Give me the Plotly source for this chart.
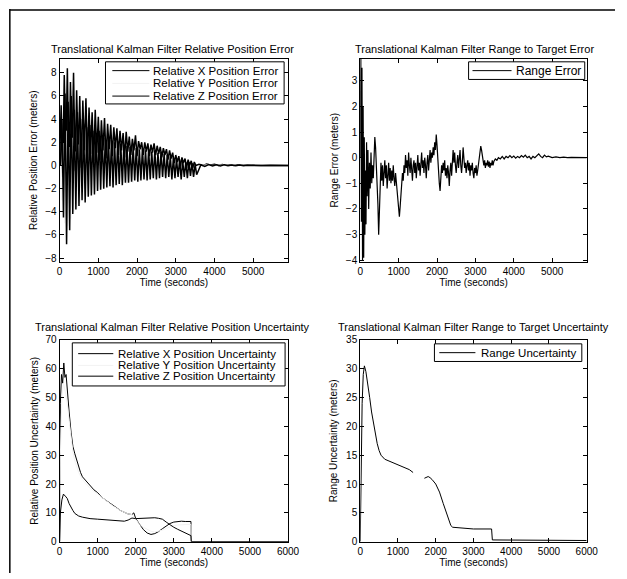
import plotly.graph_objects as go

W, H = 627, 579
FONT = "Liberation Sans, Arial, sans-serif"

# ---------------- data ----------------
# Top-left: relative position error (meters)
tl_time_x = [0, 40, 80, 120, 160, 200, 240, 280, 320, 360,
             400, 440, 480, 520, 560, 600, 640, 680, 720, 760,
             800, 840, 880, 920, 960, 1000, 1040, 1080, 1120, 1160,
             1200, 1240, 1280, 1320, 1360, 1400, 1440, 1480, 1520, 1560,
             1600, 1640, 1680, 1720, 1760, 1800, 1840, 1880, 1920, 1960,
             2000, 2040, 2080, 2120, 2160, 2200, 2240, 2280, 2320, 2360,
             2400, 2440, 2480, 2520, 2560, 2600, 2640, 2680, 2720, 2760,
             2800, 2840, 2880, 2920, 2960, 3000, 3040, 3080, 3120, 3160,
             3200, 3240, 3280, 3320, 3360, 3400, 3440, 3480, 3520,
             3600, 3700, 3800, 3900, 4000, 4100, 4200, 4300, 4400, 4500,
             4600, 4700, 4800, 4900, 5000, 5200, 5400, 5600, 5900]
tl_time_y = [10, 50, 90, 130, 170, 210, 250, 290, 330, 370,
             410, 450, 490, 530, 570, 610, 650, 690, 730, 770,
             810, 850, 890, 930, 970, 1010, 1050, 1090, 1130, 1170,
             1210, 1250, 1290, 1330, 1370, 1410, 1450, 1490, 1530, 1570,
             1610, 1650, 1690, 1730, 1770, 1810, 1850, 1890, 1930, 1970,
             2010, 2050, 2090, 2130, 2170, 2210, 2250, 2290, 2330, 2370,
             2410, 2450, 2490, 2530, 2570, 2610, 2650, 2690, 2730, 2770,
             2810, 2850, 2890, 2930, 2970, 3010, 3050, 3090, 3130, 3170,
             3210, 3250, 3290, 3330, 3370, 3410, 3450, 3490, 3530,
             3600, 3700, 3800, 3900, 4000, 4100, 4200, 4300, 4400, 4500,
             4600, 4700, 4800, 4900, 5000, 5200, 5400, 5600, 5900]
tl_time_z = [20, 60, 100, 140, 180, 220, 260, 300, 340, 380,
             420, 460, 500, 540, 580, 620, 660, 700, 740, 780,
             820, 860, 900, 940, 980, 1020, 1060, 1100, 1140, 1180,
             1220, 1260, 1300, 1340, 1380, 1420, 1460, 1500, 1540, 1580,
             1620, 1660, 1700, 1740, 1780, 1820, 1860, 1900, 1940, 1980,
             2020, 2060, 2100, 2140, 2180, 2220, 2260, 2300, 2340, 2380,
             2420, 2460, 2500, 2540, 2580, 2620, 2660, 2700, 2740, 2780,
             2820, 2860, 2900, 2940, 2980, 3020, 3060, 3100, 3140, 3180,
             3220, 3260, 3300, 3340, 3380, 3420, 3460, 3500, 3540,
             3650, 3750, 3850, 3950, 4050, 4150, 4250, 4350, 4450, 4550,
             4650, 4750, 4850, 4950, 5050, 5250, 5450, 5650, 5900]
tl_x_err = [0.5, 5.2, -1.0, 7.8, 0.5, 8.4, -0.8, 7.2, 1.0, 8.0,
            -0.5, 6.5, 0.8, 6.0, -0.2, 5.6, 1.2, 5.8, 0.3, 5.0,
            1.0, 4.6, 0.2, 4.8, 1.1, 4.2, 0.5, 3.9, 1.3, 4.1,
            0.6, 3.6, 1.4, 3.5, 0.8, 3.3, 1.5, 3.2, 0.9, 3.0,
            1.3, 2.8, 0.7, 2.9, 1.2, 2.5, 0.9, 2.3, 1.3, 2.6,
            0.8, 2.1, 1.4, 2.0, 0.9, 2.0, 1.2, 1.9, 0.8, 1.8,
            1.1, 1.9, 0.9, 1.7, 1.0, 1.6, 0.7, 1.5, 0.9, 1.4,
            0.5, 1.3, 0.6, 1.1, 0.2, 0.9, 0.3, 0.8, -0.1, 0.7,
            0.2, 0.6, -0.2, 0.5, 0.0, 0.4, -0.2, 0.3, 0.0,
            0.1, 0.0, 0.12, 0.03, 0.1, 0.0, 0.08, 0.02, 0.07, 0.0,
            0.05, 0.02, 0.04, 0.0, 0.03, 0.0, 0.01, 0.0, 0.0]
tl_y_err = [0.0, -3.0, 2.0, -5.0, 3.0, -5.2, 1.6, -4.6, 2.4, -4.0,
            1.2, -3.6, 1.8, -3.2, 0.8, -2.9, 1.3, -2.7, 0.6, -2.5,
            1.0, -2.4, 0.4, -2.3, 0.7, -2.1, 0.3, -2.0, 0.6, -1.9,
            0.2, -1.9, 0.5, -1.8, 0.1, -1.7, 0.4, -1.8, 0.0, -1.6,
            0.3, -1.5, -0.1, -1.6, 0.2, -1.4, -0.2, -1.5, 0.1, -1.3,
            -0.2, -1.4, 0.0, -1.2, -0.2, -1.3, -0.1, -1.2, -0.3, -1.1,
            -0.1, -1.2, -0.3, -1.1, -0.2, -1.0, -0.4, -1.1, -0.2, -1.0,
            -0.4, -1.1, -0.3, -1.0, -0.5, -1.2, -0.3, -1.1, -0.4, -1.0,
            -0.3, -1.2, -0.5, -1.1, -0.3, -1.0, -0.4, -0.9, -0.3,
            -0.1, 0.0, 0.05, 0.0, 0.03, 0.0, 0.02, 0.0, 0.01, 0.0,
            0.0, 0.0, 0.0, 0.0, 0.0, 0.0, 0.0, 0.0, 0.0]
tl_z_err = [0.0, 4.0, -4.5, 6.2, -6.8, 5.5, -5.6, 6.0, -4.2, 4.8,
            -3.8, 4.6, -3.5, 4.0, -3.0, 3.6, -3.2, 3.3, -2.7, 3.5,
            -2.6, 3.0, -2.5, 2.8, -2.2, 3.0, -2.1, 2.6, -2.0, 2.4,
            -1.9, 2.5, -1.8, 2.2, -1.9, 2.0, -1.7, 2.1, -1.6, 1.9,
            -1.7, 1.8, -1.5, 1.7, -1.5, 1.6, -1.4, 1.7, -1.3, 1.5,
            -1.4, 1.4, -1.3, 1.5, -1.2, 1.3, -1.3, 1.4, -1.2, 1.2,
            -1.1, 1.3, -1.2, 1.1, -1.1, 1.2, -1.0, 1.0, -1.1, 0.9,
            -1.0, 0.8, -1.2, 0.7, -1.1, 0.6, -1.0, 0.5, -1.2, 0.4,
            -1.0, 0.3, -1.1, 0.3, -0.9, 0.2, -1.0, 0.1, -0.8,
            0.06, -0.08, 0.07, -0.05, 0.06, -0.04, 0.05, -0.03, 0.04, -0.02,
            0.03, -0.02, 0.02, -0.01, 0.01, 0.0, 0.01, 0.0, 0.0]

# Top-right: range to target error (meters)
tr_time = [0, 15, 30, 45, 60, 75, 90, 105, 120, 135, 150, 165, 180,
           200, 220, 240, 260, 280, 300, 320, 340, 360, 380, 400, 420, 440, 460, 480,
           500, 520, 540, 560, 580, 600, 620, 640, 660, 680, 700, 720, 740, 760, 780,
           800, 820, 840, 860, 880, 900, 920, 940, 960, 980, 1000, 1020, 1040, 1060, 1080,
           1100, 1120, 1140, 1160, 1180, 1200, 1220, 1240, 1260, 1280, 1300, 1320, 1340, 1360, 1380,
           1400, 1420, 1440, 1460, 1480, 1500, 1520, 1540, 1560, 1580, 1600, 1620, 1640, 1660, 1680,
           1700, 1720, 1740, 1760, 1780, 1800, 1820, 1840, 1860, 1880, 1900, 1920, 1940, 1960, 1980,
           2000, 2020, 2040, 2060, 2080, 2100, 2120, 2140, 2160, 2180, 2200, 2220, 2240, 2260, 2280,
           2300, 2320, 2340, 2360, 2380, 2400, 2420, 2440, 2460, 2480, 2500, 2520, 2540, 2560, 2580,
           2600, 2620, 2640, 2660, 2680, 2700, 2720, 2740, 2760, 2780, 2800, 2820, 2840, 2860, 2880,
           2900, 2920, 2940, 2960, 2980, 3000, 3020, 3040, 3060, 3080, 3100, 3120, 3140, 3160, 3180,
           3200, 3220, 3240, 3260, 3280, 3300, 3320, 3340, 3360, 3380, 3400, 3420, 3440, 3460, 3480,
           3520, 3560, 3600, 3650, 3700, 3750, 3800, 3850, 3900, 3950, 4000, 4050, 4100, 4150, 4200,
           4250, 4300, 4350, 4400, 4450, 4500, 4550, 4600, 4650, 4700, 4750, 4800, 4850, 4900,
           5000, 5100, 5200, 5300, 5400, 5500, 5900]
tr_err = [0.0, 3.9, -2.5, 3.5, -4.0, 2.0, -3.9, 0.8, -3.0, -0.5, -2.6, 0.6, -1.5,
          0.3, -2.0, -0.2, -1.2, 0.2, -1.0, -0.3, -0.8, 0.2, 0.8, 0.4, -0.3, -0.8, -1.8, -3.0,
          -1.8, -0.6, -0.2, -0.9, -0.3, -1.1, -0.5, -0.1, -0.8, -0.3, -1.2, -0.6, -0.2, -0.9, -0.4,
          -1.0, -0.5, -0.9, -0.3, -0.8, -1.1, -0.6, -0.9, -1.2, -1.6, -1.9, -2.3, -1.9, -1.5, -1.0,
          -0.6, -0.9, -0.3, -0.6, 0.1, -0.4, -0.1, -0.7, 0.2, -0.3, -0.6, 0.0, -0.4, -0.9, -0.3,
          -0.1, -0.6, -0.2, -0.8, -0.4, 0.1, -0.5, -0.2, -0.7, -0.3, 0.2, -0.4, -0.1, -0.6, 0.0,
          -0.3, -0.8, -0.2, 0.1, -0.5, -0.1, 0.3, -0.2, 0.2, 0.0, 0.4, 0.1, 0.6, 0.3, 0.9,
          0.5, -0.2, -0.6, -1.0, -1.3, -0.7, -0.3, -0.6, -0.2, -0.5, -0.1, -0.7, -0.4, -0.8, -0.3,
          -0.6, -1.1, -0.5, -0.2, -0.7, -0.3, 0.3, -0.2, 0.2, -0.3, -0.6, -0.2, 0.1, -0.4, -0.1,
          0.3, -0.3, -0.6, -0.2, 0.4, 0.0, -0.4, -0.2, -0.6, -0.3, -0.1, -0.5, -0.2, -0.7, -0.3,
          -0.5, -0.2, -0.6, -0.8, -0.4, -0.6, -0.3, -0.7, -0.5, -0.2, 0.0, 0.2, 0.45, 0.3, 0.1,
          -0.1, -0.3, -0.1, -0.4, -0.2, -0.3, -0.1, -0.35, -0.15, -0.4, -0.2, -0.3, -0.1, -0.3, -0.15,
          -0.05, -0.1, 0.0, -0.05, 0.05, -0.05, 0.05, 0.0, 0.08, 0.0, 0.06, -0.02, 0.05, 0.0, 0.08,
          0.02, 0.1, 0.0, 0.05, -0.05, 0.05, 0.0, 0.08, 0.15, 0.05, 0.0, 0.1, 0.03, 0.06,
          0.0, 0.03, 0.0, 0.02, 0.0, 0.01, 0.0]

# Bottom-left: relative position uncertainty (meters)
bl_time_x = [0, 20, 50, 80, 110, 140, 170, 200, 250, 300, 350, 400, 450, 500, 550, 600,
             700, 800, 900, 1000, 1100, 1200, 1300, 1400, 1500, 1600, 1700, 1800, 1900, 1950,
             2000, 2100, 2200, 2300, 2400, 2500, 2600, 2700, 2800, 2900, 3000, 3100, 3200,
             3300, 3450, 3460, 6000]
bl_x_unc = [0, 48, 58, 55, 62, 57, 58, 52, 45, 38, 33, 30.5, 28, 25.5, 24, 22.5,
            21, 19.5, 18, 17, 15.5, 14.5, 13.5, 12.5, 11.5, 10.8, 10.2, 9.6, 9.4, 10.0,
            8.0, 6.0, 4.2, 3.0, 2.5, 2.8, 3.5, 4.5, 5.5, 6.3, 6.8, 7.0, 7.1,
            7.0, 7.0, 0, 0]
bl_time_yz = [0, 20, 60, 100, 150, 200, 250, 300, 350, 400, 450, 500, 600, 700, 800, 1000,
              1200, 1400, 1600, 1700, 1800, 1900, 2000, 2100, 2200, 2300, 2400, 2500, 2600,
              2700, 2800, 2900, 3000, 3100, 3200, 3300, 3400, 3450, 3460, 6000]
bl_y_unc = [0, 30, 50, 55, 52, 48, 42, 36, 31, 28, 26, 24, 21.5, 20, 18.5, 16.5,
            14.4, 12.4, 10.8, 10.1, 9.6, 9.4, 7.5, 6.0, 5.0, 4.2, 3.6, 3.4, 3.6,
            4.0, 4.6, 5.2, 5.6, 5.8, 5.9, 6.0, 6.0, 6.0, 0, 0]
bl_z_unc = [0, 10, 14.5, 16.5, 15.8, 15.0, 13.2, 11.8, 10.8, 9.8, 9.2, 8.9, 8.5, 8.2, 8.0, 7.8,
            7.6, 7.4, 7.2, 7.1, 7.5, 8.2, 8.0, 8.1, 8.2, 8.3, 8.4, 8.3, 8.1,
            7.8, 6.8, 5.8, 5.0, 4.3, 3.7, 3.0, 2.4, 2.1, 0, 0]

# Bottom-right: range to target uncertainty (meters)
br_time = [0, 20, 50, 80, 110, 150, 200, 250, 300, 350, 400, 450, 500, 550, 650, 800,
           1000, 1150, 1300, 1400, 1550, 1700, 1750, 1800, 1850, 1900, 2000, 2100, 2200,
           2300, 2400, 2450, 2600, 2800, 3000, 3200, 3480, 3500, 4000, 5000, 6000]
br_unc = [0, 14, 24, 29, 30.5, 29.5, 27.5, 25, 22.5, 20.5, 18.5, 17, 15.8, 15, 14.3, 13.9,
          13.4, 13.0, 12.5, 12.0, None, 11.0, 11.2, 11.3, 11.1, 10.8, 10.0, 8.6, 6.6,
          4.6, 2.8, 2.5, 2.4, 2.3, 2.2, 2.2, 2.2, 0.3, 0.3, 0.25, 0.2]

# tick labels
tl_yticks = [-8, -6, -4, -2, 0, 2, 4, 6, 8]
tr_yticks = [-4, -3, -2, -1, 0, 1, 2, 3]
bl_yticks = [0, 10, 20, 30, 40, 50, 60, 70]
br_yticks = [0, 5, 10, 15, 20, 25, 30, 35]
top_xticks = [0, 1000, 2000, 3000, 4000, 5000]
bot_xticks = [0, 1000, 2000, 3000, 4000, 5000, 6000]

titles = ["Translational Kalman Filter Relative Position Error",
          "Translational Kalman Filter Range to Target Error",
          "Translational Kalman Filter Relative Position Uncertainty",
          "Translational Kalman Filter Range to Target Uncertainty"]
ytitles = ["Relative Position Error (meters)", "Range Error (meters)",
           "Relative Position Uncertainty (meters)", "Range Uncertainty (meters)"]
xtitle = "Time (seconds)"

# ---------------- layout helpers ----------------
def fx(x):
    return x / W


def fy(y):
    return 1 - y / H


BLACK = "black"
FADED = "#f2f2f2"   # the light (almost vanished) second line colour of the scan

# axes boxes in pixels (left, right, top, bottom)
boxes = [(58, 292, 54, 261), (366, 598, 54, 261), (58, 292, 341, 547), (366, 598, 341, 547)]

fig = go.Figure()
line = dict(color=BLACK, width=1)
dense = dict(color=BLACK, width=1.5)

fig.add_trace(go.Scatter(x=tl_time_x, y=tl_x_err, mode="lines", line=dense, name="Relative X Position Error", xaxis="x", yaxis="y"))
fig.add_trace(go.Scatter(x=tl_time_y, y=tl_y_err, mode="lines", line=dict(color=FADED, width=1.2), name="Relative Y Position Error", xaxis="x", yaxis="y"))
fig.add_trace(go.Scatter(x=tl_time_z, y=tl_z_err, mode="lines", line=dense, name="Relative Z Position Error", xaxis="x", yaxis="y"))
fig.add_trace(go.Scatter(x=tr_time, y=tr_err, mode="lines", line=dict(color=BLACK, width=1.2), name="Range Error", xaxis="x2", yaxis="y2"))
fig.add_trace(go.Scatter(x=bl_time_x, y=bl_x_unc, mode="lines", line=line, name="Relative X Position Uncertainty", xaxis="x3", yaxis="y3"))
fig.add_trace(go.Scatter(x=bl_time_yz, y=bl_y_unc, mode="lines", line=dict(color=FADED, width=1), name="Relative Y Position Uncertainty", xaxis="x3", yaxis="y3"))
fig.add_trace(go.Scatter(x=bl_time_yz, y=bl_z_unc, mode="lines", line=line, name="Relative Z Position Uncertainty", xaxis="x3", yaxis="y3"))
fig.add_trace(go.Scatter(x=br_time, y=br_unc, mode="lines", line=line, name="Range Uncertainty", xaxis="x4", yaxis="y4", connectgaps=False))

tickfont = dict(family=FONT, size=10, color=BLACK)
common = dict(showline=True, linecolor=BLACK, linewidth=1, mirror="ticks", ticks="inside",
              ticklen=4, tickcolor=BLACK, showgrid=False, zeroline=False, tickfont=tickfont)

xranges = [[0, 5900], [0, 5900], [0, 6000], [0, 6000]]
yranges = [[-8.3, 9.2], [-4.05, 3.85], [0, 70], [0, 35]]
xt = [top_xticks, top_xticks, bot_xticks, bot_xticks]
yt = [tl_yticks, tr_yticks, bl_yticks, br_yticks]
xstand = [1, 1, 3, 3]
ystand = [5, 5, 4, 6]

layout = dict(width=W, height=H, margin=dict(l=0, r=0, t=0, b=0), showlegend=False,
              plot_bgcolor="white", paper_bgcolor="white", font=dict(family=FONT, color=BLACK),
              hovermode=False)
for i, (l, r, t, b) in enumerate(boxes):
    sx = "" if i == 0 else str(i + 1)
    layout["xaxis" + sx] = dict(common, domain=[fx(l), fx(r)], range=xranges[i], tickvals=xt[i],
                               anchor="y" + sx,
                               title=dict(text=xtitle, font=dict(family=FONT, size=10), standoff=xstand[i]))
    layout["yaxis" + sx] = dict(common, domain=[fy(b), fy(t)], range=yranges[i], tickvals=yt[i],
                               anchor="x" + sx,
                               title=dict(text=ytitles[i], font=dict(family=FONT, size=10), standoff=ystand[i]))
fig.update_layout(**layout)

annotations = []
title_pos = [(174, 44), (483, 44), (174, 328), (482, 328)]
for (x, y), txt in zip(title_pos, titles):
    annotations.append(dict(x=fx(x), y=fy(y), xref="paper", yref="paper", text=txt, showarrow=False,
                            xanchor="center", yanchor="middle", font=dict(family=FONT, size=11, color=BLACK)))

shapes = []
# scan frame lines
shapes.append(dict(type="line", xref="paper", yref="paper", x0=fx(7), x1=fx(627), y0=fy(4), y1=fy(4),
                   line=dict(color=BLACK, width=1.5)))
shapes.append(dict(type="line", xref="paper", yref="paper", x0=fx(7), x1=fx(7), y0=fy(3), y1=fy(579),
                   line=dict(color=BLACK, width=1.5)))

# legends (drawn manually): box, sample lines, labels
legends = [
    dict(box=(105, 288, 57, 100), seg=(112, 150), tx=152, size=11.5,
         rows=[(66, "Relative X Position Error", BLACK), (79, "Relative Y Position Error", FADED),
               (92, "Relative Z Position Error", BLACK)]),
    dict(box=(477, 596, 57, 75), seg=(481, 521), tx=524, size=12,
         rows=[(66, "Range Error", BLACK)]),
    dict(box=(71, 289, 344, 388), seg=(77, 113), tx=116, size=11.5,
         rows=[(355, "Relative X Position Uncertainty", BLACK), (367, "Relative Y Position Uncertainty", FADED),
               (378, "Relative Z Position Uncertainty", BLACK)]),
    dict(box=(442, 593, 345, 363), seg=(447, 484), tx=488, size=11.5,
         rows=[(354, "Range Uncertainty", BLACK)]),
]
for lg in legends:
    l, r, t, b = lg["box"]
    shapes.append(dict(type="rect", xref="paper", yref="paper", x0=fx(l), x1=fx(r), y0=fy(b), y1=fy(t),
                       line=dict(color=BLACK, width=1), fillcolor="white", layer="above"))
    for y, txt, col in lg["rows"]:
        shapes.append(dict(type="line", xref="paper", yref="paper", x0=fx(lg["seg"][0]), x1=fx(lg["seg"][1]),
                           y0=fy(y), y1=fy(y), line=dict(color=col, width=1), layer="above"))
        annotations.append(dict(x=fx(lg["tx"]), y=fy(y), xref="paper", yref="paper", text=txt, showarrow=False,
                                xanchor="left", yanchor="middle", font=dict(family=FONT, size=lg["size"], color=BLACK)))

fig.update_layout(annotations=annotations, shapes=shapes)

page_css = ("var s=document.createElement('style');"
            "s.textContent='html,body{margin:0;padding:0;overflow:hidden;width:627px;height:579px;}"
            ".plotly-graph-div{display:block;}';"
            "document.head.appendChild(s);")
fig.write_html("out.html", config={"displayModeBar": False, "staticPlot": True},
               post_script=page_css)
